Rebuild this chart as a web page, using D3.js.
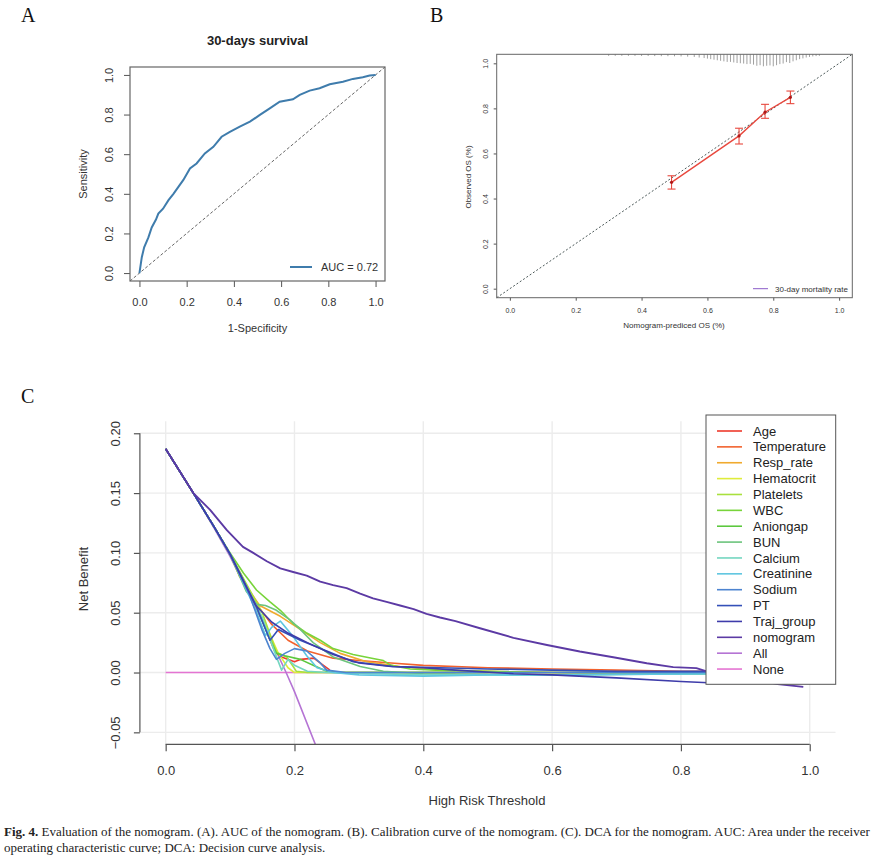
<!DOCTYPE html>
<html>
<head>
<meta charset="utf-8">
<script src="https://cdn.jsdelivr.net/npm/d3@7"></script>
<style>
  body { margin: 0; background: #fff; }
  svg { display: block; font-family: "Liberation Sans", Arial, sans-serif; }
</style>
</head>
<body>
<div id="fig"></div>
<script>
// ---- panel A: ROC curve ----
const rocPoints = [
  [0, 0], [0.01, 0.08], [0.02, 0.13], [0.038, 0.18], [0.052, 0.23], [0.07, 0.27],
  [0.08, 0.30], [0.10, 0.325], [0.123, 0.368], [0.144, 0.40], [0.165, 0.435],
  [0.186, 0.47], [0.214, 0.528], [0.242, 0.553], [0.277, 0.604], [0.313, 0.637],
  [0.348, 0.688], [0.383, 0.713], [0.425, 0.739], [0.468, 0.764], [0.51, 0.798],
  [0.552, 0.831], [0.594, 0.865], [0.65, 0.877], [0.679, 0.899], [0.721, 0.921],
  [0.763, 0.933], [0.806, 0.953], [0.862, 0.966], [0.904, 0.98], [0.946, 0.988],
  [0.975, 0.997], [1, 1]
];
const rocTicks = [0, 0.2, 0.4, 0.6, 0.8, 1.0];
const aucLabel = "AUC = 0.72";

// ---- panel B: calibration ----
const calPredicted = [0.491, 0.696, 0.775, 0.852];
const calObserved = [0.472, 0.678, 0.783, 0.849];
const calLower = [0.442, 0.642, 0.756, 0.821];
const calUpper = [0.501, 0.712, 0.818, 0.877];
// distribution of predicted values shown as the rug along the top: [x, relative height]
const rugBins = [
  [0.30, 0.05], [0.32, 0.05], [0.34, 0.05], [0.36, 0.05], [0.38, 0.05], [0.40, 0.06],
  [0.42, 0.06], [0.44, 0.07], [0.46, 0.08], [0.48, 0.08], [0.50, 0.09], [0.52, 0.1],
  [0.54, 0.12], [0.56, 0.15], [0.575, 0.2], [0.59, 0.25], [0.60, 0.3], [0.61, 0.35],
  [0.62, 0.4], [0.63, 0.45], [0.64, 0.5], [0.65, 0.55], [0.66, 0.6], [0.67, 0.6],
  [0.68, 0.65], [0.69, 0.7], [0.70, 0.72], [0.71, 0.75], [0.72, 0.8], [0.73, 0.78],
  [0.74, 0.85], [0.75, 0.95], [0.76, 0.9], [0.77, 1.0], [0.78, 0.95], [0.79, 0.92],
  [0.80, 1.0], [0.81, 0.9], [0.82, 0.8], [0.83, 0.75], [0.84, 0.62], [0.85, 0.7],
  [0.86, 0.55], [0.87, 0.45], [0.88, 0.35], [0.89, 0.28], [0.90, 0.2], [0.91, 0.15],
  [0.92, 0.1], [0.93, 0.07], [0.94, 0.05]
];
const calTicks = [0, 0.2, 0.4, 0.6, 0.8, 1.0];

// ---- panel C: decision curves ----
const dcaNames = ["Age", "Temperature", "Resp_rate", "Hematocrit", "Platelets", "WBC",
  "Aniongap", "BUN", "Calcium", "Creatinine", "Sodium", "PT", "Traj_group", "nomogram", "All", "None"];
const dcaColors = ["#ee3a2c", "#f2622e", "#f0aa2e", "#dfec3c", "#a9e03e", "#78d43a",
  "#5cc83e", "#6cc47c", "#74d6c0", "#5ec6e0", "#4d84d0", "#3450b8", "#3e3caa", "#5c3aa4", "#b574d4", "#e474d2"];
const ageNB = [[0,0.187],[0.043,0.150],[0.075,0.122],[0.1,0.099],[0.14,0.058],[0.16,0.03],[0.17,0.017],[0.18,0.013],[0.2,0.009],[0.21,0.011],[0.23,0.012],[0.245,0.006],[0.255,0.002]];
const temperatureNB = [[0,0.187],[0.043,0.150],[0.075,0.122],[0.1,0.099],[0.14,0.058],[0.165,0.04],[0.19,0.027],[0.22,0.018],[0.26,0.012],[0.3,0.010],[0.35,0.008],[0.4,0.006],[0.5,0.004],[0.6,0.003],[0.7,0.002],[0.8,0.001],[0.86,0.001]];
const respRateNB = [[0,0.187],[0.043,0.150],[0.075,0.122],[0.1,0.099],[0.115,0.08],[0.146,0.056],[0.178,0.047],[0.209,0.036],[0.24,0.025],[0.271,0.016],[0.312,0.009],[0.364,0.005],[0.426,0.002],[0.5,0.001],[0.6,0.0],[0.7,-0.001],[0.86,-0.001]];
const hematocritNB = [[0,0.187],[0.043,0.150],[0.075,0.122],[0.1,0.099],[0.15,0.046],[0.175,0.016],[0.19,0.004],[0.2,0],[0.3,0],[0.4,0],[0.5,0]];
const plateletsNB = [[0,0.187],[0.043,0.150],[0.075,0.122],[0.1,0.099],[0.15,0.05],[0.172,0.017],[0.188,0.013],[0.203,0.001],[0.22,0],[0.4,0],[0.6,0],[0.86,0]];
const wbcNB = [[0,0.187],[0.043,0.150],[0.075,0.122],[0.1,0.100],[0.121,0.083],[0.141,0.069],[0.162,0.059],[0.178,0.052],[0.198,0.041],[0.219,0.033],[0.24,0.027],[0.26,0.020],[0.291,0.015],[0.32,0.012],[0.338,0.010],[0.35,0.006],[0.38,0.003],[0.42,0.002],[0.5,0.001],[0.6,0.0],[0.86,0.0]];
const aniongapNB = [[0,0.187],[0.043,0.150],[0.075,0.122],[0.1,0.099],[0.14,0.056],[0.16,0.03],[0.172,0.016],[0.185,0.014],[0.209,0.011],[0.229,0.006],[0.25,0.001],[0.27,0],[0.45,0]];
const bunNB = [[0,0.187],[0.043,0.150],[0.075,0.122],[0.1,0.099],[0.125,0.068],[0.141,0.057],[0.155,0.056],[0.172,0.052],[0.193,0.044],[0.209,0.036],[0.229,0.025],[0.26,0.013],[0.302,0.005],[0.338,0.001],[0.4,-0.001],[0.6,-0.002],[0.8,-0.001],[0.86,-0.001]];
const calciumNB = [[0,0.187],[0.043,0.150],[0.075,0.122],[0.1,0.099],[0.15,0.046],[0.17,0.016],[0.18,0.002],[0.19,0.011],[0.2,0.006],[0.22,0.001],[0.25,0],[0.4,-0.002],[0.6,-0.002],[0.86,-0.001]];
const creatinineNB = [[0,0.187],[0.043,0.150],[0.075,0.122],[0.1,0.099],[0.14,0.052],[0.155,0.031],[0.165,0.038],[0.178,0.043],[0.198,0.030],[0.219,0.014],[0.235,0.004],[0.26,0],[0.3,-0.002],[0.4,-0.003],[0.5,-0.002],[0.6,-0.002],[0.86,-0.001]];
const sodiumNB = [[0,0.187],[0.043,0.150],[0.075,0.122],[0.1,0.099],[0.13,0.065],[0.15,0.035],[0.162,0.02],[0.172,0.011],[0.185,0.016],[0.2,0.02],[0.219,0.018],[0.24,0.008],[0.25,0.002],[0.28,0],[0.5,0],[0.86,0]];
const ptNB = [[0,0.187],[0.043,0.150],[0.075,0.122],[0.1,0.099],[0.141,0.055],[0.162,0.027],[0.175,0.036],[0.209,0.027],[0.25,0.018],[0.291,0.009],[0.353,0.005],[0.426,0.004],[0.5,0.003],[0.6,0.002],[0.7,0.001],[0.86,0.001]];
const trajGroupNB = [[0,0.187],[0.043,0.150],[0.075,0.122],[0.1,0.099],[0.14,0.056],[0.165,0.042],[0.19,0.033],[0.22,0.025],[0.26,0.015],[0.3,0.008],[0.35,0.005],[0.4,0.004],[0.45,0.002],[0.54,-0.001],[0.6,-0.002],[0.7,-0.0045],[0.8,-0.0075],[0.86,-0.009]];
const nomogramNB = [[0,0.187],[0.043,0.150],[0.069,0.136],[0.095,0.119],[0.12,0.105],[0.136,0.100],[0.157,0.093],[0.178,0.087],[0.198,0.084],[0.219,0.081],[0.24,0.076],[0.26,0.073],[0.281,0.0705],[0.302,0.066],[0.322,0.062],[0.343,0.059],[0.364,0.056],[0.385,0.053],[0.405,0.049],[0.426,0.046],[0.45,0.043],[0.488,0.037],[0.54,0.029],[0.592,0.023],[0.643,0.0176],[0.695,0.0128],[0.747,0.0078],[0.788,0.0045],[0.824,0.0037],[0.84,0.001],[0.9,-0.004],[0.95,-0.0097],[0.99,-0.012]];
const allNB = [[0,0.187],[0.043,0.150],[0.075,0.121],[0.1,0.097],[0.15,0.043],[0.187,0],[0.2,-0.016],[0.25,-0.084]];
const noneNB = [[0,0],[0.99,0]];
const dcaSeries = [ageNB, temperatureNB, respRateNB, hematocritNB, plateletsNB, wbcNB, aniongapNB,
  bunNB, calciumNB, creatinineNB, sodiumNB, ptNB, trajGroupNB, nomogramNB, allNB, noneNB];
const dcaXTicks = [0, 0.2, 0.4, 0.6, 0.8, 1.0];
const dcaYTicks = [-0.05, 0, 0.05, 0.10, 0.15, 0.20];

const captionBold = "Fig. 4.";
const captionLine1 = "  Evaluation of the nomogram. (A). AUC of the nomogram. (B). Calibration curve of the nomogram. (C). DCA for the nomogram. AUC: Area under the receiver";
const captionLine2 = "operating characteristic curve; DCA: Decision curve analysis.";

const W = 876, H = 858;
const svg = d3.select("#fig").append("svg").attr("width", W).attr("height", H);
svg.append("rect").attr("width", W).attr("height", H).attr("fill", "#fff");

const panelLetter = (x, y, t) => svg.append("text")
  .attr("x", x).attr("y", y)
  .attr("font-family", "'Liberation Serif', 'Times New Roman', serif")
  .attr("font-size", 20).attr("fill", "#111").text(t);

// rotate the left axis labels like base R graphics (las = 0)
const rotateLeftLabels = (g, offset) => {
  g.selectAll(".tick text")
    .attr("transform", "rotate(-90)")
    .attr("x", 0).attr("y", offset).attr("dy", 0)
    .attr("text-anchor", "middle");
};

// ================= A =================
{
  const x = d3.scaleLinear().domain([-0.04, 1.04]).range([130, 385]);
  const y = d3.scaleLinear().domain([-0.04, 1.04]).range([281, 67]);
  const g = svg.append("g");
  const fmt = d3.format(".1f");

  panelLetter(21, 22, "A");

  g.append("text").attr("x", (x.range()[0] + x.range()[1]) / 2).attr("y", 45)
    .attr("text-anchor", "middle").attr("font-weight", "bold").attr("font-size", 13)
    .attr("fill", "#222").text("30-days survival");

  g.append("line")
    .attr("x1", x(-0.04)).attr("y1", y(-0.04)).attr("x2", x(1.04)).attr("y2", y(1.04))
    .attr("stroke", "#666").attr("stroke-width", 1).attr("stroke-dasharray", "3,2");

  g.append("path").datum(rocPoints)
    .attr("fill", "none").attr("stroke", "#3f7cac").attr("stroke-width", 2)
    .attr("d", d3.line().x(d => x(d[0])).y(d => y(d[1])));

  const xa = g.append("g").attr("transform", `translate(0,${y.range()[0]})`)
    .call(d3.axisBottom(x).tickValues(rocTicks).tickFormat(fmt).tickSize(6).tickPadding(11).tickSizeOuter(0));
  const ya = g.append("g").attr("transform", `translate(${x.range()[0]},0)`)
    .call(d3.axisLeft(y).tickValues(rocTicks).tickFormat(fmt).tickSize(6).tickSizeOuter(0));
  rotateLeftLabels(ya, -17);
  [xa, ya].forEach(a => {
    a.select(".domain").remove();
    a.selectAll("line").attr("stroke", "#555");
    a.selectAll("text").attr("font-size", 11).attr("fill", "#333").attr("font-family", "'Liberation Sans', Arial, sans-serif");
  });

  g.append("rect").attr("x", x.range()[0]).attr("y", y.range()[1])
    .attr("width", x.range()[1] - x.range()[0]).attr("height", y.range()[0] - y.range()[1])
    .attr("fill", "none").attr("stroke", "#666").attr("stroke-width", 1.2);

  g.append("text").attr("x", (x.range()[0] + x.range()[1]) / 2).attr("y", 332)
    .attr("text-anchor", "middle").attr("font-size", 11).attr("fill", "#333").text("1-Specificity");
  g.append("text").attr("transform", `translate(87,${(y.range()[0] + y.range()[1]) / 2}) rotate(-90)`)
    .attr("text-anchor", "middle").attr("font-size", 11).attr("fill", "#333").text("Sensitivity");

  g.append("line").attr("x1", 290).attr("x2", 312).attr("y1", 267).attr("y2", 267)
    .attr("stroke", "#3f7cac").attr("stroke-width", 2);
  g.append("text").attr("x", 321).attr("y", 271).attr("font-size", 11).attr("fill", "#333").text(aucLabel);
}

// ================= B =================
{
  const x = d3.scaleLinear().domain([-0.04, 1.04]).range([496.7, 852.3]);
  const y = d3.scaleLinear().domain([-0.04, 1.04]).range([297.7, 54.3]);
  const g = svg.append("g");
  const fmt = d3.format(".1f");
  const red = "#e8483e";

  panelLetter(430, 22, "B");

  // rug of predicted values hanging from the top border
  g.append("g").selectAll("line").data(rugBins).join("line")
    .attr("x1", d => x(d[0])).attr("x2", d => x(d[0]))
    .attr("y1", y.range()[1]).attr("y2", d => y.range()[1] + 1 + d[1] * 11)
    .attr("stroke", "#777").attr("stroke-width", 0.7);

  g.append("line")
    .attr("x1", x(-0.04)).attr("y1", y(-0.04)).attr("x2", x(1.04)).attr("y2", y(1.04))
    .attr("stroke", "#4d5a5a").attr("stroke-width", 1).attr("stroke-dasharray", "2,2");

  const pts = calPredicted.map((p, i) => ({ p, o: calObserved[i], lo: calLower[i], hi: calUpper[i] }));
  g.append("path").datum(pts)
    .attr("fill", "none").attr("stroke", red).attr("stroke-width", 1.4)
    .attr("d", d3.line().x(d => x(d.p)).y(d => y(d.o)));
  const eb = g.append("g").selectAll("g").data(pts).join("g").attr("stroke", red).attr("stroke-width", 1.1);
  eb.append("line").attr("x1", d => x(d.p)).attr("x2", d => x(d.p)).attr("y1", d => y(d.lo)).attr("y2", d => y(d.hi));
  eb.append("line").attr("x1", d => x(d.p) - 4).attr("x2", d => x(d.p) + 4).attr("y1", d => y(d.lo)).attr("y2", d => y(d.lo));
  eb.append("line").attr("x1", d => x(d.p) - 4).attr("x2", d => x(d.p) + 4).attr("y1", d => y(d.hi)).attr("y2", d => y(d.hi));
  g.append("g").selectAll("circle").data(pts).join("circle")
    .attr("cx", d => x(d.p)).attr("cy", d => y(d.o)).attr("r", 1.6).attr("fill", "#b01818");

  const xa = g.append("g").attr("transform", `translate(0,${y.range()[0]})`)
    .call(d3.axisBottom(x).tickValues(calTicks).tickFormat(fmt).tickSize(3).tickPadding(7).tickSizeOuter(0));
  const ya = g.append("g").attr("transform", `translate(${x.range()[0]},0)`)
    .call(d3.axisLeft(y).tickValues(calTicks).tickFormat(fmt).tickSize(3).tickSizeOuter(0));
  rotateLeftLabels(ya, -9);
  [xa, ya].forEach(a => {
    a.select(".domain").remove();
    a.selectAll("line").attr("stroke", "#555");
    a.selectAll("text").attr("font-size", 7).attr("fill", "#333");
  });

  g.append("rect").attr("x", x.range()[0]).attr("y", y.range()[1])
    .attr("width", x.range()[1] - x.range()[0]).attr("height", y.range()[0] - y.range()[1])
    .attr("fill", "none").attr("stroke", "#666").attr("stroke-width", 1);

  g.append("text").attr("x", 674).attr("y", 328)
    .attr("text-anchor", "middle").attr("font-size", 8).attr("fill", "#333").text("Nomogram-prediced OS (%)");
  g.append("text").attr("transform", `translate(471,177) rotate(-90)`)
    .attr("text-anchor", "middle").attr("font-size", 8).attr("fill", "#333").text("Observed OS (%)");

  g.append("line").attr("x1", 753).attr("x2", 768).attr("y1", 288.7).attr("y2", 288.7)
    .attr("stroke", "#8a5cc8").attr("stroke-width", 1);
  g.append("text").attr("x", 775).attr("y", 291.5).attr("font-size", 8).attr("fill", "#333").text("30-day mortality rate");
}

// ================= C =================
{
  const x = d3.scaleLinear().domain([-0.04, 1.04]).range([139.9, 835.5]);
  const y = d3.scaleLinear().domain([-0.06, 0.21]).range([744.3, 421.3]);
  const g = svg.append("g");

  panelLetter(21, 403, "C");

  // light grid
  const grid = g.append("g").attr("stroke", "#ececec").attr("stroke-width", 1.4);
  grid.selectAll(".v").data(dcaXTicks).join("line")
    .attr("x1", d => x(d)).attr("x2", d => x(d)).attr("y1", y.range()[0]).attr("y2", y.range()[1]);
  grid.selectAll(".h").data(dcaYTicks).join("line")
    .attr("x1", x.range()[0]).attr("x2", x.range()[1]).attr("y1", d => y(d)).attr("y2", d => y(d));

  svg.append("clipPath").attr("id", "clipC").append("rect")
    .attr("x", x.range()[0]).attr("y", y.range()[1])
    .attr("width", x.range()[1] - x.range()[0]).attr("height", y.range()[0] - y.range()[1]);

  const line = d3.line().x(d => x(d[0])).y(d => y(d[1]));
  // reference lines first, then variables, nomogram last
  const order = [15, 14, 0, 1, 2, 3, 4, 5, 6, 7, 8, 9, 10, 11, 12, 13];
  g.append("g").attr("clip-path", "url(#clipC)")
    .selectAll("path").data(order).join("path")
    .attr("fill", "none").attr("stroke", i => dcaColors[i])
    .attr("stroke-width", i => i === 13 ? 1.9 : 1.6)
    .attr("stroke-linejoin", "round")
    .attr("d", i => line(dcaSeries[i]));

  const xa = g.append("g").attr("transform", `translate(0,${y.range()[0]})`)
    .call(d3.axisBottom(x).tickValues(dcaXTicks).tickFormat(d3.format(".1f")).tickSize(7).tickPadding(14).tickSizeOuter(0));
  const ya = g.append("g").attr("transform", `translate(${x.range()[0]},0)`)
    .call(d3.axisLeft(y).tickValues(dcaYTicks).tickFormat(d3.format(".2f")).tickSize(6).tickSizeOuter(0));
  rotateLeftLabels(ya, -20);
  [xa, ya].forEach(a => {
    a.select(".domain").remove();
    a.selectAll("line").attr("stroke", "#555").attr("stroke-width", 1.2);
    a.selectAll("text").attr("font-size", 13).attr("fill", "#333");
  });
  g.append("line").attr("x1", x(0)).attr("x2", x(1)).attr("y1", y.range()[0]).attr("y2", y.range()[0])
    .attr("stroke", "#555").attr("stroke-width", 1.2);
  g.append("line").attr("x1", x.range()[0]).attr("x2", x.range()[0]).attr("y1", y(-0.05)).attr("y2", y(0.20))
    .attr("stroke", "#555").attr("stroke-width", 1.2);

  g.append("text").attr("x", 487).attr("y", 805)
    .attr("text-anchor", "middle").attr("font-size", 13).attr("fill", "#333").text("High Risk Threshold");
  g.append("text").attr("transform", `translate(88,579) rotate(-90)`)
    .attr("text-anchor", "middle").attr("font-size", 13).attr("fill", "#333").text("Net Benefit");

  // legend
  const lg = g.append("g");
  lg.append("rect").attr("x", 706).attr("y", 415).attr("width", 129.7).attr("height", 269.3)
    .attr("fill", "#fff").attr("stroke", "#555").attr("stroke-width", 1);
  const items = lg.selectAll("g").data(dcaNames).join("g")
    .attr("transform", (d, i) => `translate(0,${431 + i * 15.87})`);
  items.append("line").attr("x1", 717).attr("x2", 742)
    .attr("stroke", (d, i) => dcaColors[i]).attr("stroke-width", 1.6);
  items.append("text").attr("x", 753).attr("y", 4.6).attr("font-size", 13).attr("fill", "#222").text(d => d);
}

// ================= caption =================
{
  const serif = "'Liberation Serif', 'Times New Roman', serif";
  const t1 = svg.append("text").attr("y", 836).attr("font-family", serif).attr("font-size", 12).attr("fill", "#222");
  t1.append("tspan").attr("font-weight", "bold").text(captionBold);
  t1.append("tspan").text(captionLine1);
  const t2 = svg.append("text").attr("y", 852).attr("font-family", serif).attr("font-size", 12).attr("fill", "#222")
    .text(captionLine2);
  const k = 866 / t1.node().getComputedTextLength();
  t1.attr("transform", `translate(4,0) scale(${k},1)`);
  t2.attr("transform", `translate(4,0) scale(${k},1)`);
}
</script>
</body>
</html>
